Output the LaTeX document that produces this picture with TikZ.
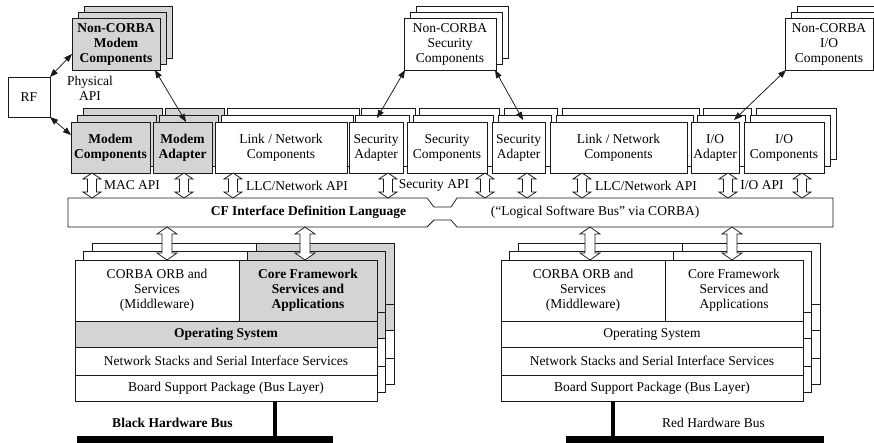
\documentclass[tikz,border=0pt]{standalone}
\usepackage{fontspec}
\setmainfont{Liberation Serif}
\usetikzlibrary{arrows.meta,calc}
\definecolor{boxgray}{RGB}{212,212,212}
\definecolor{ln}{RGB}{25,25,25}
\tikzset{
 base/.style={draw=ln, line width=0.75pt, fill=white, inner sep=0pt, outer sep=0pt, align=center, font=\fontsize{13.5}{15}\selectfont},
 grayb/.style={base, fill=boxgray, font=\fontsize{13.5}{15}\selectfont\bfseries},
 lbl/.style={inner sep=0pt, align=center, font=\fontsize{13.5}{15}\selectfont},
 lblb/.style={lbl, font=\fontsize{13.5}{15}\selectfont\bfseries},
 conn/.style={draw=ln, line width=0.75pt, {Triangle[length=8pt,width=6pt]}-{Triangle[length=8pt,width=6pt]}},
 hol/.style={draw=ln, line width=0.75pt, fill=white},
 bus/.style={line width=4.5pt, black},
 busbar/.style={fill=black, inner sep=0pt, outer sep=0pt, minimum height=7pt, anchor=north west},
}
% layered component box: name, cx, cy, w, h, style, dx, dy, text
\newcommand\layeredbox[9]{%
 \foreach \k in {2,1}{\node[#6, minimum width=#4pt, minimum height=#5pt, xshift=\k*#7pt, yshift=\k*#8pt] (#1-l\k) at (#2,#3) {};}
 \node[#6, minimum width=#4pt, minimum height=#5pt] (#1) at (#2,#3) {#9};}
% hollow double arrow: x, ytop, ybot, half shaft, half head, head length
\newcommand\hollowarrow[6]{\draw[hol] (#1,#2) -- (#1+#5,#2+#6) -- (#1+#4,#2+#6) -- (#1+#4,#3-#6) -- (#1+#5,#3-#6) -- (#1,#3) -- (#1-#5,#3-#6) -- (#1-#4,#3-#6) -- (#1-#4,#2+#6) -- (#1-#5,#2+#6) -- cycle;}
\newif\ifstktext
% hardware stack: prefix, x0, y0, core style, os style
\newcommand\hwstack[5]{%
 \node[base, anchor=north west, minimum width=164pt, minimum height=61pt] (#1corba) at (#2,#3) {\ifstktext CORBA ORB and\\Services\\(Middleware)\fi};
 \node[#4, anchor=north west, minimum width=138pt, minimum height=61pt] (#1core) at (#2+164,#3) {\ifstktext Core Framework\\Services and\\Applications\fi};
 \node[#5, anchor=north west, minimum width=302pt, minimum height=26pt] (#1os) at (#2,#3+61) {\ifstktext Operating System\fi};
 \node[base, anchor=north west, minimum width=302pt, minimum height=28pt] (#1net) at (#2,#3+87) {\ifstktext Network Stacks and Serial Interface Services\fi};
 \node[base, anchor=north west, minimum width=302pt, minimum height=26pt] (#1bsp) at (#2,#3+115) {\ifstktext Board Support Package (Bus Layer)\fi};
}
\begin{document}
\begin{tikzpicture}[x=1pt, y=-1pt]
\useasboundingbox (0,0) rectangle (874,443);
\fill[white] (0,0) rectangle (874,443);

% Non-CORBA components
\layeredbox{ncm}{116}{44}{88}{52}{grayb}{6}{6}{Non-CORBA\\Modem\\Components}
\layeredbox{ncs}{450}{44}{92}{52}{base}{6}{6}{Non-CORBA\\Security\\Components}
\layeredbox{nci}{829}{44}{88}{52}{base}{6}{6}{Non-CORBA\\I/O\\Components}

% RF
\node[base, minimum width=42pt, minimum height=40pt] (rf) at (29,97) {RF};
\node[lbl] (phy) at (90,88.5) {Physical\\API};

% top row components
\layeredbox{mc}{110.5}{147.5}{79}{51}{grayb}{6}{7}{Modem\\Components}
\layeredbox{ma}{182.5}{147.5}{59}{51}{grayb}{6}{7}{Modem\\Adapter}
\layeredbox{ln1}{281}{147.5}{132}{51}{base}{6}{7}{Link / Network\\Components}
\layeredbox{sa1}{376}{147.5}{54}{51}{base}{6}{7}{Security\\Adapter}
\layeredbox{sc}{447}{147.5}{80}{51}{base}{6}{7}{Security\\Components}
\layeredbox{sa2}{518.5}{147.5}{53}{51}{base}{6}{7}{Security\\Adapter}
\layeredbox{ln2}{618.5}{147.5}{137}{51}{base}{6}{7}{Link / Network\\Components}
\layeredbox{ioa}{715}{147.5}{48}{51}{base}{6}{7}{I/O\\Adapter}
\layeredbox{ioc}{784}{147.5}{80}{51}{base}{6}{7}{I/O\\Components}

% connectors
\draw[conn] (rf.north east) -- ($(ncm.south west)+(0,-16)$);
\draw[conn] (rf.south east) -- ($(mc.north west)+(0,13)$);
\draw[conn] ($(ncm.south east)+(-5,0)$) -- ($(ma.north west)+(33,0)$);
\draw[conn] ($(ncs.south west)+(1,0)$) -- ($(sa1.north west)+(28,-4)$);
\draw[conn] ($(ncs.south east)+(-1,0)$) -- ($(sa2.north west)+(31,-2)$);
\draw[conn] ($(nci.south west)+(1,0)$) -- ($(ioa.north west)+(43,-2)$);

% CF bar
\draw[hol] (68,198) -- (427,198) -- (434,207) -- (451,207) -- (457,198) -- (833,198) -- (833,227) -- (457,227) -- (451,220) -- (434,220) -- (427,227) -- (68,227) -- cycle;
\node[lblb] (cft) at (308.5,212.5) {CF Interface Definition Language};
\node[lbl] (lsb) at (595,212.5) {(“Logical Software Bus” via CORBA)};

% upper hollow arrows
\foreach \ax in {92,184,233,388,485,527,582,728,802}{\hollowarrow{\ax}{173}{198}{4.5}{9}{6}}
\node[lbl] (mac) at (132,185.5) {MAC API};
\node[lbl] (llc1) at (297,185.5) {LLC/Network API};
\node[lbl] (sec) at (434,185.5) {Security API};
\node[lbl] (llc2) at (646,185.5) {LLC/Network API};
\node[lbl] (io) at (762,185.5) {I/O API};

% hardware stacks
\stktextfalse
\hwstack{l2}{92}{243}{grayb}{grayb}
\hwstack{l1}{83.5}{251.5}{grayb}{grayb}
\hwstack{r2}{518}{243}{base}{base}
\hwstack{r1}{509.5}{251.5}{base}{base}
\stktexttrue
\hwstack{l}{75}{260}{grayb}{grayb}
\hwstack{r}{501}{260}{base}{base}

% lower hollow arrows
\foreach \ax in {167,305,590,732}{\hollowarrow{\ax}{227}{260}{5}{10}{7}}

% buses
\coordinate (lbx) at (275,420);
\coordinate (rbx) at (613,420);
\node[busbar, minimum width=256pt] (lbar) at (77,436) {};
\node[busbar, minimum width=258pt] (rbar) at (566,436) {};
\draw[bus] (lbx |- lbsp.south) -- (lbx |- lbar.north);
\draw[bus] (rbx |- rbsp.south) -- (rbx |- rbar.north);
\node[lblb] (lbt) at (172.5,423) {Black Hardware Bus};
\node[lbl] (rbt) at (713.5,423) {Red Hardware Bus};
\end{tikzpicture}
\end{document}
